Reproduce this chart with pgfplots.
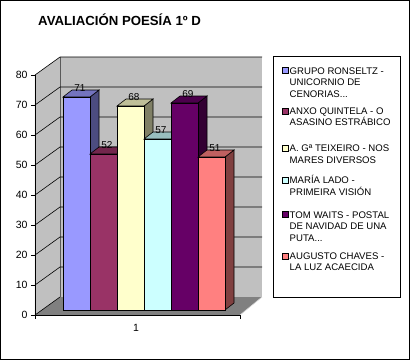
\documentclass[border=0pt]{standalone}
\usepackage{pgfplots}
\pgfplotsset{compat=1.18}
\usepackage{fontspec}
\setmainfont{Liberation Sans}
\definecolor{c1}{HTML}{9999FF}
\definecolor{c2}{HTML}{993366}
\definecolor{c3}{HTML}{FFFFCC}
\definecolor{c4}{HTML}{CCFFFF}
\definecolor{c5}{HTML}{660066}
\definecolor{c6}{HTML}{FF8080}
\definecolor{wallgray}{HTML}{C0C0C0}
\definecolor{floorgray}{HTML}{808080}
\newcommand\mybar[3]{% #1 index, #2 value, #3 colour
  \pgfmathsetmacro\xa{28+27*#1}\pgfmathsetmacro\xb{\xa+27}%
  \pgfmathsetmacro\xc{\xa+9}\pgfmathsetmacro\xd{\xb+9}%
  \pgfmathsetmacro\yb{#2+1.67}\pgfmathsetmacro\yc{#2+4}%
  \edef\tmp{%
    \noexpand\addplot[fill=#3!50!black,draw=black,line width=0.6pt] coordinates {(\xb,1.67)(\xb,\yb)(\xd,\yc)(\xd,4)} -- cycle;
    \noexpand\addplot[fill=#3!75!black,draw=black,line width=0.6pt] coordinates {(\xa,\yb)(\xc,\yc)(\xd,\yc)(\xb,\yb)} -- cycle;
    \noexpand\addplot[fill=#3,draw=black,line width=0.6pt] coordinates {(\xa,1.67)(\xa,\yb)(\xb,\yb)(\xb,1.67)} -- cycle;
  }\tmp}
\newcommand\mylabel[2]{%
  \pgfmathsetmacro\xl{28+27*#1+17}\pgfmathsetmacro\yl{#2+4.5}%
  \edef\tmp{\noexpand\node[vlab] at (axis cs:\xl,\yl) {#2};}\tmp}
\tikzset{vlab/.style={font=\fontsize{10}{10}\selectfont,inner sep=0pt}}
\begin{document}
\begin{tikzpicture}[x=1pt,y=1pt]
\useasboundingbox (0,0) rectangle (410,360);
\draw[black,line width=1pt] (0.5,0.5) rectangle (409.5,359.5);
\begin{axis}[
  at={(35pt,45pt)}, anchor=south west,
  scale only axis, width=205pt, height=240pt,
  xmin=0, xmax=205, ymin=0, ymax=80,
  clip=false, axis on top,
  axis x line*=bottom, axis y line*=left,
  axis line style={black, line width=0.6pt},
  ytick={0,10,...,80},
  xtick={101}, xticklabels={1},
  x tick style={draw=none},
  y tick style={black, line width=0.6pt},
  tick align=outside, major tick length=4pt,
  tick label style={font=\fontsize{10.5}{10.5}\selectfont},
  /pgf/number format/assume math mode=true,
  xticklabel style={yshift=-2pt},
]
% walls and floor
\addplot[fill=wallgray,draw=none] coordinates {(0,0)(25,6)(25,86)(0,80)} -- cycle;
\addplot[fill=wallgray,draw=none] coordinates {(25,6)(227,6)(227,86)(25,86)} -- cycle;
\addplot[fill=floorgray,draw=none] coordinates {(0,0)(205,0)(227,6)(25,6)} -- cycle;
\draw[floorgray!70!black,line width=0.6pt] (axis cs:25,6) -- (axis cs:25,86);
\draw[black,line width=0.6pt] (axis cs:0,0) -- (axis cs:25,6);
\draw[white!70!gray,line width=0.6pt] (axis cs:205,0) -- (axis cs:227,6);
\pgfplotsinvokeforeach{10,20,30,40,50,60,70,80}{%
  \draw[black,line width=0.6pt] (axis cs:0,#1) -- (axis cs:25,#1+6) -- (axis cs:227,#1+6);
}
\draw[black,line width=0.6pt] (axis cs:205,0) -- (axis cs:205,-1.33);
\draw[black,line width=0.6pt] (axis cs:0,0) -- (axis cs:0,-1.33);
% bars
\mybar{0}{71}{c1}
\mybar{1}{52}{c2}
\mybar{2}{68}{c3}
\mybar{3}{57}{c4}
\mybar{4}{69}{c5}
\mybar{5}{51}{c6}
\mylabel{0}{71}
\mylabel{1}{52}
\mylabel{2}{68}
\mylabel{3}{57}
\mylabel{4}{69}
\mylabel{5}{51}
\end{axis}
% title
\node[anchor=base west,inner sep=0pt,font=\bfseries\fontsize{13.2}{13.2}\selectfont] at (38,335) {AVALIACIÓN POESÍA 1º D};
% legend
\draw[black,line width=0.6pt] (273.5,62.5) rectangle (400.5,303.5);
\begin{scope}[every node/.style={anchor=base west,inner sep=0pt,font=\fontsize{9.6}{9.6}\selectfont}]
\def\sw#1#2{\filldraw[fill=#1,draw=black,line width=0.5pt] (282,#2+0.5) rectangle (288,#2+6.5);}
\sw{c1}{286}
\node at (289.5,286) {GRUPO RONSELTZ -};
\node at (289.5,274.3) {UNICORNIO DE};
\node at (289.5,262.7) {CENORIAS...};
\sw{c2}{245.3}
\node at (289.5,245.3) {ANXO QUINTELA - O};
\node at (289.5,234.3) {ASASINO ESTRÁBICO};
\sw{c3}{208.7}
\node at (289.5,208.7) {A. Gª TEIXEIRO - NOS};
\node at (289.5,197) {MARES DIVERSOS};
\sw{c4}{176.7}
\node at (289.5,176.7) {MARÍA LADO -};
\node at (289.5,164.7) {PRIMEIRA VISIÓN};
\sw{c5}{142}
\node at (289.5,142) {TOM WAITS - POSTAL};
\node at (289.5,130.3) {DE NAVIDAD DE UNA};
\node at (289.5,118.7) {PUTA...};
\sw{c6}{100.3}
\node at (289.5,100.3) {AUGUSTO CHAVES -};
\node at (289.5,89.3) {LA LUZ ACAECIDA};
\end{scope}
\end{tikzpicture}
\end{document}
